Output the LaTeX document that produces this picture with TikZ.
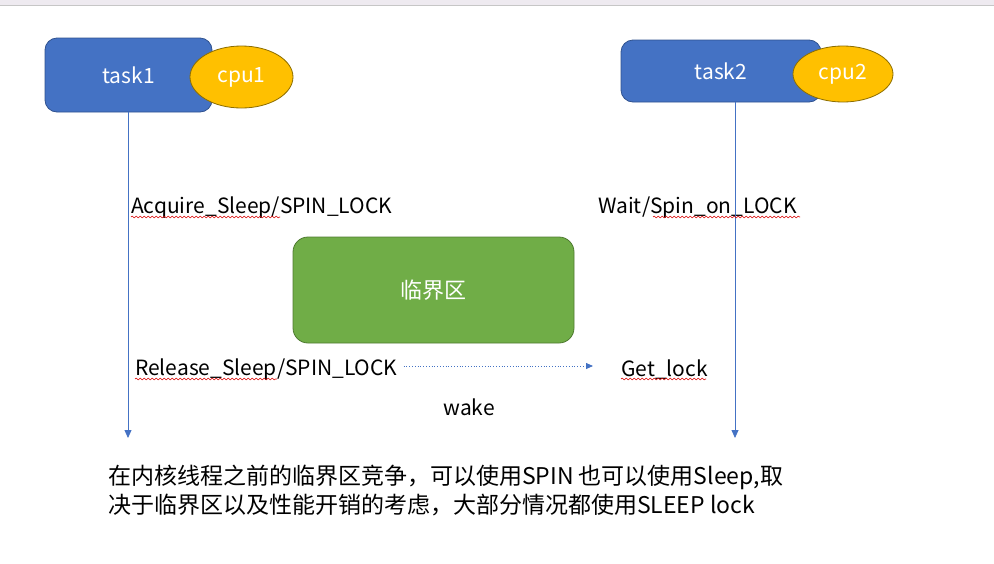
\documentclass[tikz,border=0pt]{standalone}
\usepackage{fontspec}
\setmainfont{Noto Sans CJK SC}
\usetikzlibrary{shapes.geometric,arrows.meta,decorations.pathmorphing}

\definecolor{taskblue}{HTML}{4472C4}
\definecolor{taskedge}{HTML}{2F528F}
\definecolor{cpugold}{HTML}{FFC000}
\definecolor{cpuedge}{HTML}{8C6D00}
\definecolor{critgreen}{HTML}{70AD47}
\definecolor{critedge}{HTML}{4E7A30}
\definecolor{topband}{HTML}{EEEAF0}

\begin{document}
\begin{tikzpicture}[x=1pt, y=-1pt, line join=round,
  taskbox/.style={draw=taskedge, fill=taskblue, rounded corners=12pt, line width=0.8pt,
    text=white, font=\fontsize{21}{25}\selectfont},
  cpuell/.style={ellipse, draw=cpuedge, fill=cpugold, line width=0.8pt, inner sep=0pt,
    text=white, font=\fontsize{21}{25}\selectfont},
  critbox/.style={draw=critedge, fill=critgreen, rounded corners=15pt, line width=0.8pt,
    text=white, font=\fontsize{22}{26}\selectfont},
  lbl/.style={inner sep=0pt, anchor=west, font=\fontsize{21}{25}\selectfont},
  lifeline/.style={draw=taskblue, line width=0.8pt, -{Triangle[length=8pt,width=7pt]}},
  squiggle/.style={draw=red!85!black, line width=0.6pt,
    decorate, decoration={snake, segment length=4pt, amplitude=0.9pt}}]

  %% ════ 窗口顶边 ════
  \fill[topband] (0,0) rectangle (994,5);
  \draw[gray!45, line width=1pt] (0,5) -- (994,5);

  %% ════ 任务与 CPU ════
  \node[taskbox, minimum width=167, minimum height=74] (task1) at (128.5,75) {task1};
  \node[cpuell, minimum width=103, minimum height=62] (cpu1) at (241.5,77) {cpu1};
  \node[taskbox, minimum width=200, minimum height=62] (task2) at (721,71) {task2};
  \node[cpuell, minimum width=100, minimum height=56] (cpu2) at (843,74) {cpu2};

  %% ════ 临界区 ════
  \node[critbox, minimum width=281, minimum height=106] (crit) at (433.5,290) {临界区};

  %% ════ 文字标签 ════
  \node[lbl] (acq) at (131,208) {Acquire\_Sleep/SPIN\_LOCK};
  \node[lbl] (wait) at (598,208) {Wait/Spin\_on\_LOCK};
  \node[lbl] (rel) at (135,370) {Release\_Sleep/SPIN\_LOCK};
  \node[lbl] (get) at (621,370) {Get\_lock};
  \node[lbl, anchor=center] (wake) at (469,407) {wake};
  \node[inner sep=0pt, anchor=west, align=left, font=\fontsize{23}{29}\selectfont] (note) at (108,490.5)
    {在内核线程之前的临界区竞争，可以使用SPIN 也可以使用Sleep,取\\决于临界区以及性能开销的考虑，大部分情况都使用SLEEP lock};

  %% ════ 时间线 ════
  \coordinate (end1) at (128,438);
  \coordinate (end2) at (735,438);
  \draw[lifeline] (task1.south -| end1) -- (end1);
  \draw[lifeline] (task2.south -| end2) -- (end2);

  %% ════ 唤醒（虚线箭头）════
  \draw[draw=taskblue, line width=0.8pt, dotted, -{Triangle[length=7pt,width=6pt]}]
    ([xshift=6pt,yshift=4pt]rel.east) -- ([xshift=-28pt,yshift=4pt]get.west);

  %% ════ 拼写检查波浪线 ════
  \draw[squiggle] (131,217) -- (280,217);   % Acquire_Sleep
  \draw[squiggle] (653,217) -- (800,217);   % Spin_on_LOCK
  \draw[squiggle] (135,379) -- (277,379);   % Release_Sleep
  \draw[squiggle] (621,379) -- (706,379);   % Get_lock

  % 钉死画布
  \pgfresetboundingbox
  \path[use as bounding box] (0,0) rectangle (994,563);
\end{tikzpicture}
\end{document}
